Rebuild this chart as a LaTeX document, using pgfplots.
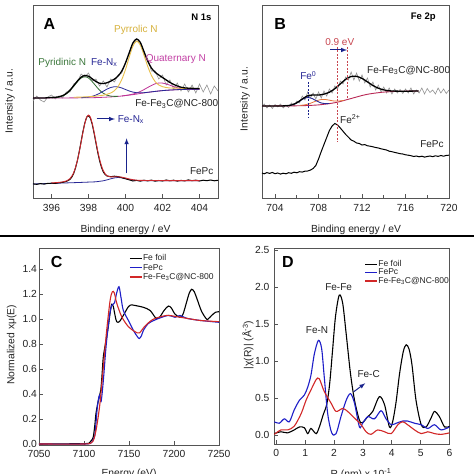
\documentclass[border=0pt]{standalone}
\usepackage{fontspec}
\setmainfont{Liberation Sans}
\usepackage{pgfplots}
\pgfplotsset{compat=1.18}
\definecolor{cframe}{RGB}{85,85,85}
\definecolor{ctext}{RGB}{35,35,35}
\definecolor{cgray}{RGB}{145,145,145}
\definecolor{cgreen}{RGB}{50,110,50}
\definecolor{cgreenT}{RGB}{60,120,60}
\definecolor{cblue}{RGB}{40,40,150}
\definecolor{cyellow}{RGB}{232,192,75}
\definecolor{cyellowT}{RGB}{215,178,60}
\definecolor{cmag}{RGB}{190,50,150}
\definecolor{cmagT}{RGB}{195,65,165}
\definecolor{cred}{RGB}{205,40,45}
\definecolor{ccrim}{RGB}{185,40,85}
\definecolor{corange}{RGB}{230,120,60}
\definecolor{cnavy}{RGB}{25,35,140}
\definecolor{cpink}{RGB}{200,70,80}
\definecolor{cbl}{RGB}{30,30,200}
\definecolor{crd}{RGB}{210,40,40}
\newcommand{\fs}[1]{\fontsize{#1}{#1}\selectfont}
\pgfplotsset{
  myax/.style={scale only axis, anchor=south west,
    axis line style={cframe, line width=0.9pt},
    tick align=inside, xtick pos=bottom, ytick pos=left,
    major tick length=4pt, minor tick length=2.5pt,
    tick style={cframe, line width=0.8pt},
    ticklabel style={font=\fs{10.3}, text=ctext},
    /pgf/number format/assume math mode=true,
    clip=false},
}
\begin{document}
\begin{tikzpicture}
\useasboundingbox (0pt,0pt) rectangle (474pt,474pt);
\clip (0pt,0pt) rectangle (474pt,474pt);
\fill[white] (0pt,0pt) rectangle (474pt,474pt);

%================ A =================
\begin{axis}[myax, at={(33pt,276pt)}, width=185pt, height=193pt,
  xmin=395, xmax=405, ymin=0, ymax=193,
  xtick={396,398,400,402,404}, ytick=\empty,
  xticklabel style={yshift=-3pt}]
% raw data (gray)
\addplot[cgray, line width=0.6pt] coordinates {
(395.0,97)(395.2,102)(395.4,98)(395.6,96)(395.8,101)(396.0,103)(396.2,99)(396.4,102)(396.6,100)(396.8,106)
(397.0,106)(397.2,114)(397.4,116)(397.6,124)(397.8,121)(398.0,125)(398.2,117)(398.4,119)(398.6,112)(398.8,117)
(399.0,111)(399.2,119)(399.4,116)(399.6,123)(399.8,125)(400.0,136)(400.2,144)(400.4,155)(400.6,157)(400.8,156)
(401.0,145)(401.2,139)(401.4,127)(401.6,127)(401.8,119)(402.0,123)(402.2,113)(402.4,118)(402.6,109)(402.8,115)
(403.0,107)(403.2,114)(403.4,106)(403.6,113)(403.8,105)(404.0,114)(404.2,106)(404.4,113)(404.6,104)(404.8,112)(405.0,107)};
% baseline / quaternary (magenta)
\addplot[cmag, line width=0.8pt, smooth] coordinates {
(395,100)(396,100)(397,100.1)(397.8,100.2)(398.4,100.4)(399,100.9)(399.4,101.3)(399.8,102)(400.2,103.1)
(400.4,103.9)(400.6,105.0)(400.8,106.5)(401.0,108.4)(401.2,110.5)(401.4,112.5)(401.6,114.2)(401.8,115.0)
(402.0,114.9)(402.2,114.1)(402.4,112.8)(402.6,111.4)(402.8,110.3)(403.0,109.5)(403.2,109.1)(403.4,108.9)(404,108.9)};
\addplot[cmag, line width=0.8pt, smooth] coordinates {
(399.8,102)(400.2,102.9)(400.6,103.9)(401,105.1)(401.4,106.1)(401.8,107)(402.2,107.7)(402.6,108.1)(403,108.5)(403.6,108.7)(404,108.9)};
% pyridinic (green)
\addplot[cgreen, line width=0.8pt, smooth] coordinates {
(396.0,100.1)(396.2,100.3)(396.4,100.8)(396.6,101.9)(396.8,104.1)(397.0,107.4)(397.2,111.7)(397.4,116.2)
(397.6,119.9)(397.8,121.2)(398.0,120.0)(398.2,116.4)(398.4,112.0)(398.6,107.8)(398.8,104.7)(399.0,102.8)
(399.2,101.9)(399.4,101.6)(399.6,101.7)};
% Fe-Nx (blue)
\addplot[cblue, line width=0.8pt, smooth] coordinates {
(397.6,100.3)(397.8,100.5)(398.0,100.9)(398.2,101.7)(398.4,102.9)(398.6,104.7)(398.8,106.8)(399.0,108.9)
(399.2,110.5)(399.4,111.3)(399.6,111.1)(399.8,110.0)(400.0,108.5)(400.2,107.0)(400.4,105.9)(400.6,105.3)
(400.8,105.2)(401.0,105.3)(401.2,105.7)(401.6,106.6)(402.2,107.7)(403,108.5)(404,108.9)};
% pyrrolic (yellow)
\addplot[cyellow, line width=0.9pt, smooth] coordinates {
(397.2,100.7)(397.8,101.1)(398.2,101.5)(398.6,102.3)(398.8,102.8)(399.0,103.7)(399.2,105.0)(399.4,107.3)
(399.6,111.5)(399.8,118.5)(400.0,128.5)(400.2,140.7)(400.4,151.8)(400.6,156.9)(400.8,152.9)(401.0,142.9)
(401.2,131.7)(401.4,122.6)(401.6,116.5)(401.8,113.0)(402.0,111.3)(402.2,110.5)(402.4,110.0)(402.6,109.9)
(403.0,109.7)(403.4,109.6)(404.0,109.5)};
% envelope (black)
\addplot[black, line width=1.3pt, smooth] coordinates {
(395,100)(395.6,100)(396.0,100.5)(396.2,100.7)(396.4,101.2)(396.6,102.4)(396.8,104.5)(397.0,107.9)(397.2,112.3)
(397.4,117.0)(397.6,120.8)(397.8,122.6)(398.0,121.8)(398.2,119.2)(398.4,116.5)(398.6,114.7)(398.8,114.4)
(399.0,115.2)(399.2,116.8)(399.4,118.9)(399.6,122.0)(399.8,127.0)(400.0,135.0)(400.2,145.2)(400.4,155.0)
(400.6,159.0)(400.8,155.6)(401.0,146.4)(401.2,137.0)(401.4,130.0)(401.6,125.8)(401.8,123.0)(402.0,120.5)
(402.2,118.0)(402.4,115.6)(402.6,113.6)(402.8,112.0)(403.0,110.8)(403.2,110.1)(403.4,109.8)(403.8,109.5)(404.0,109.5)};
% FePc baseline + Fe-Nx (blue)
\addplot[cblue, line width=0.8pt, smooth] coordinates {
(395,14)(396,14.6)(397,15.2)(397.6,15.6)(398,15.9)(398.4,16.2)(398.6,16.7)(398.8,17.2)(399.0,18.1)(399.2,19.2)
(399.4,20.1)(399.6,20.5)(399.8,20.2)(400,19.5)(400.2,18.6)(400.4,17.9)(400.6,17.5)(400.8,17.3)(401,17.2)(402,17.25)(403,17.3)(404,17.3)};
% FePc data (black)
\addplot[black, line width=1.0pt] coordinates {
(395.0,14.2)(395.2,13.6)(395.4,14.4)(395.6,13.9)(395.8,14.6)(396.0,14.8)(396.2,14.5)(396.4,15.3)(396.6,15.6)(396.8,16.5)
(397.0,18.6)(397.1,21.0)(397.2,24.6)(397.3,30.2)(397.4,37.5)(397.5,46.5)(397.6,56.5)(397.7,66.5)(397.8,75.0)(397.9,80.8)
(398.0,82.3)(398.1,80.0)(398.2,73.8)(398.3,65.0)(398.4,55.2)(398.5,45.5)(398.6,37.2)(398.7,30.6)(398.8,26.0)(398.9,23.5)
(399.0,22.0)(399.2,21.3)(399.4,21.8)(399.6,21.4)(399.8,20.3)(400.0,19.2)(400.2,18.2)(400.4,17.0)(400.6,17.6)(400.8,16.9)
(401.0,17.8)(401.2,17.1)(401.4,17.9)(401.6,16.8)(401.8,17.5)(402.0,17.0)(402.2,18.0)(402.4,17.2)(402.6,17.8)(402.8,16.9)
(403.0,17.6)(403.2,17.1)(403.4,18.1)(403.6,17.3)(403.8,17.9)(404.0,17.0)(404.2,17.8)(404.4,17.3)(404.6,18.0)(404.8,17.2)(405.0,17.7)};
% FePc fit (red)
\addplot[cred, line width=0.9pt, smooth] coordinates {
(396.0,15.1)(396.4,15.6)(396.6,16.1)(396.8,17.0)(397.0,19.4)(397.1,21.9)(397.2,25.4)(397.3,30.7)(397.4,37.6)
(397.5,46.1)(397.6,55.8)(397.7,65.7)(397.8,74.4)(397.9,80.7)(398.0,82.9)(398.1,80.8)(398.2,74.7)(398.3,66.1)
(398.4,56.4)(398.5,46.9)(398.6,38.8)(398.7,32.2)(398.8,27.3)(398.9,24.2)(399.0,22.3)(399.2,21.1)(399.4,21.2)
(399.6,21.2)(399.8,20.8)(400.0,20.0)(400.2,19.0)(400.4,18.3)(400.6,17.8)(400.8,17.6)(401.2,17.5)(402,17.45)(403,17.4)(404,17.4)};
% annotations
\node[font=\fs{16}\bfseries, text=black] at (axis cs:395.88,174.2) {A};
\node[font=\fs{9.5}\bfseries, text=black, anchor=east] at (axis cs:404.84,180.7) {N 1s};
\node[font=\fs{10}, text=cyellowT] at (axis cs:400.56,168) {Pyrrolic N};
\node[font=\fs{10}, text=cgreenT] at (axis cs:396.58,135.5) {Pyridinic N};
\node[font=\fs{10}, text=cblue] at (axis cs:398.85,135.5) {Fe-N\textsubscript{x}};
\node[font=\fs{10}, text=cmagT] at (axis cs:402.72,139) {Quaternary N};
\node[font=\fs{10}, text=ctext] at (axis cs:402.77,94) {Fe-Fe\textsubscript{3}C@NC-800};
\node[font=\fs{10}, text=cblue] at (axis cs:400.29,78.5) {Fe-N\textsubscript{x}};
\node[font=\fs{10}, text=ctext] at (axis cs:404.12,27.2) {FePc};
\draw[cnavy, line width=1pt, -latex] (axis cs:398.44,79) -- (axis cs:399.43,79);
\draw[cnavy, line width=1pt, -latex] (axis cs:400.06,24.7) -- (axis cs:400.06,59.7);
\end{axis}

%================ B =================
\begin{axis}[myax, at={(262pt,276pt)}, width=187pt, height=193pt,
  xmin=702.8, xmax=720, ymin=0, ymax=193,
  xtick={704,708,712,716,720}, minor xtick={706,710,714,718}, ytick=\empty,
  xticklabel style={yshift=-3pt}]
\addplot[cgray, line width=0.6pt] coordinates {
(702.8,91)(703.0,94)(703.25,90)(703.5,93)(703.75,89.5)(704.0,93.5)(704.25,91)(704.5,94)(704.75,90)(705.0,93)
(705.25,90.5)(705.5,95)(705.75,92)(706.0,97)(706.25,95)(706.5,102)(706.75,98)(707.0,106)(707.25,100)(707.5,105)
(707.75,99)(708.0,106)(708.25,100)(708.5,107)(708.75,102)(709.0,109)(709.25,105)(709.5,112)(709.75,109)(710.0,117)
(710.25,114)(710.5,121)(710.75,118)(711.0,126)(711.25,118)(711.5,125)(711.75,117)(712.0,123)(712.25,115)(712.5,120)
(712.75,111)(713.0,116)(713.25,108)(713.5,113)(713.75,106)(714.0,111)(714.25,105)(714.5,110)(714.75,104)(715.0,109)
(715.25,105)(715.5,108.5)(715.75,104.5)(716.0,109)(716.25,105)(716.5,110)(716.75,104)(717.0,108)(717.25,105)(717.5,110)
(717.75,104)(718.0,109.5)(718.25,105.5)(718.5,108)(718.75,104)(719.0,110)(719.25,105)(719.5,109)(719.75,104.5)(720.0,108)};
% baseline (crimson)
\addplot[ccrim, line width=0.9pt, smooth] coordinates {
(702.8,92)(704,92.05)(705,92.1)(706,92.2)(707,92.5)(708,93.1)(709,94.4)(709.5,95.3)(710,96.5)(710.5,98.0)
(711,99.5)(711.5,101.0)(712,102.5)(712.5,103.7)(713,104.6)(713.5,105.3)(714,105.9)(715,106.5)(716,106.8)(717.2,107.0)};
% Fe2+ component (orange)
\addplot[corange, line width=0.8pt, smooth] coordinates {
(706.3,92.6)(706.7,93.1)(707.1,94.1)(707.5,95.8)(707.9,97.5)(708.3,98.6)(708.7,98.4)(709.1,97.6)(709.5,96.9)(709.9,97.0)(710.3,97.6)};
% Fe0 component (blue)
\addplot[cblue, line width=0.9pt, smooth] coordinates {
(705.0,92.2)(705.4,92.7)(705.8,94.0)(706.2,96.5)(706.6,99.2)(707.0,100.5)(707.4,99.5)(707.8,97.2)(708.2,95.2)(708.6,94.4)(709.0,94.5)};
% envelope
\addplot[black, line width=1.3pt, smooth] coordinates {
(702.8,92.0)(704,92.0)(705,92.2)(705.5,93.0)(706,95.2)(706.5,98.95)(707,102.2)(707.5,103.0)(708,102.9)(708.5,103.9)
(709,105.8)(709.5,109.3)(710,114.1)(710.5,118.7)(711,121.5)(711.5,121.6)(712,119.6)(712.5,116.1)(713,112.5)
(713.5,109.8)(714,108.1)(714.5,107.2)(715,106.9)(716,106.8)(717.2,107.0)};
% FePc
\addplot[black, line width=1.0pt] coordinates {
(702.8,25.0)(703.0,24.2)(703.25,25.4)(703.5,24.6)(703.75,25.5)(704.0,24.3)(704.25,25.0)(704.5,23.9)(704.75,24.8)(705.0,24.2)
(705.25,25.3)(705.5,24.7)(705.75,25.8)(706.0,25.2)(706.25,26.3)(706.5,25.9)(706.75,26.8)(707.0,27.0)(707.25,27.9)(707.5,29.5)
(707.75,32.5)(708.0,39.0)(708.25,46.5)(708.5,53.5)(708.75,60.5)(709.0,67.5)(709.25,72.0)(709.5,74.5)(709.75,73.0)(710.0,70.0)
(710.25,66.8)(710.5,63.5)(710.75,60.8)(711.0,58.0)(711.25,56.8)(711.5,55.0)(711.75,54.5)(712.0,53.0)(712.25,53.4)(712.5,52.2)
(712.75,51.8)(713.0,51.2)(713.25,50.5)(713.5,50.0)(713.75,49.2)(714.0,48.6)(714.25,48.0)(714.5,46.8)(714.75,46.3)(715.0,45.6)
(715.25,45.0)(715.5,44.3)(715.75,44.0)(716.0,43.2)(716.25,42.8)(716.5,42.3)(716.75,41.5)(717.0,42.0)(717.25,41.2)(717.5,41.8)
(717.75,40.9)(718.0,41.5)(718.25,42.0)(718.5,41.3)(718.75,42.2)(719.0,41.6)(719.25,42.5)(719.5,41.8)(719.75,42.6)(720.0,42.8)};
% annotations
\draw[cpink, line width=0.8pt, dashed, dash pattern=on 2pt off 1.5pt] (axis cs:709.75,151) -- (axis cs:709.75,56);
\draw[cpink, line width=0.8pt, dashed, dash pattern=on 2pt off 1.5pt] (axis cs:710.65,151) -- (axis cs:710.65,99);
\draw[cnavy, line width=0.8pt, dashed, dash pattern=on 2pt off 1.5pt] (axis cs:707.03,116) -- (axis cs:707.03,80);
\draw[cnavy, line width=1pt, -latex] (axis cs:709.08,148) -- (axis cs:710.62,148);
\node[font=\fs{16}\bfseries, text=black] at (axis cs:704.48,174.2) {B};
\node[font=\fs{9.5}\bfseries, text=black, anchor=east] at (axis cs:719.1,180.7) {Fe 2p};
\node[font=\fs{10}, text=cpink] at (axis cs:709.95,155.5) {0.9 eV};
\node[font=\fs{10}, text=cblue] at (axis cs:707.06,122.5) {Fe\textsuperscript{0}};
\node[font=\fs{10}, text=ctext] at (axis cs:710.92,79) {Fe\textsuperscript{2+}};
\node[font=\fs{10}, text=ctext] at (axis cs:716.29,127.5) {Fe-Fe\textsubscript{3}C@NC-800};
\node[font=\fs{10}, text=ctext] at (axis cs:718.43,54) {FePc};
\end{axis}

%================ C =================
\begin{axis}[myax, at={(39pt,29pt)}, width=180pt, height=196.7pt,
  xmin=7050, xmax=7250, ymin=-0.008, ymax=1.568,
  xtick={7050,7100,7150,7200,7250}, ytick={0,0.2,0.4,0.6,0.8,1.0,1.2,1.4},
  xticklabel style={yshift=-2pt, /pgf/number format/1000 sep={}},
  yticklabel style={xshift=1.5pt, /pgf/number format/.cd, fixed, fixed zerofill, precision=1},
  legend style={at={(axis description cs:0.5,0.972)}, anchor=north west, draw=none, fill=none,
    font=\fs{8.5}, row sep=-0.3pt, nodes={inner sep=0.6pt, text height=6.3pt, text depth=1.9pt}, inner sep=0pt, text=ctext},
  legend cell align=left,
  legend image code/.code={\draw[#1, line width=1.2pt] (0pt,0pt) -- (12pt,0pt);}]
\addplot[black, line width=1.1pt, smooth] coordinates {
(7050,0)(7100,0.003)(7106,0.01)(7108.5,0.03)(7110.4,0.06)(7112,0.15)(7113.4,0.25)(7116,0.35)(7118.6,0.43)(7120,0.55)
(7121.5,0.70)(7124.5,0.83)(7127,0.94)(7129,1.05)(7130.8,1.12)(7132.6,1.10)(7134.5,1.03)(7136.3,0.98)(7139.3,0.98)
(7143.7,1.03)(7149.3,1.10)(7153,1.115)(7156.7,1.11)(7166,1.095)(7173.4,1.07)(7179,1.015)(7181,1.005)(7184.5,1.02)
(7189,1.07)(7193.7,1.105)(7197,1.09)(7201.2,1.04)(7206.7,1.015)(7210,1.04)(7214.1,1.14)(7217,1.21)(7219.7,1.24)
(7222.5,1.22)(7225.2,1.17)(7230.8,1.06)(7236.3,1.0)(7238.5,1.005)(7241.9,1.03)(7246,1.055)(7250,1.06)};
\addlegendentry{Fe foil}
\addplot[cbl, line width=1.1pt, smooth] coordinates {
(7050,0)(7100,0.0)(7108,0.01)(7110.5,0.04)(7112.3,0.085)(7114.9,0.30)(7117.1,0.39)(7119,0.34)(7121.5,0.51)(7124.5,0.78)
(7128.2,1.02)(7130.8,1.11)(7133.8,1.13)(7136.3,1.21)(7138.9,1.26)(7141.2,1.17)(7143.7,1.07)(7149.3,0.99)(7154.9,0.91)
(7159.3,0.86)(7161.5,0.845)(7164,0.87)(7166,0.91)(7171.5,0.965)(7180.8,1.0)(7193.7,1.03)(7201.2,1.015)(7206.7,1.03)
(7214.1,1.007)(7229,0.99)(7250,0.975)};
\addlegendentry{FePc}
\addplot[crd, line width=1.1pt, smooth] coordinates {
(7050,0)(7100,0.0)(7108,0.01)(7111,0.04)(7114.1,0.14)(7117.8,0.33)(7121.5,0.62)(7125.2,0.91)(7129,1.15)(7131.5,1.22)
(7133.7,1.21)(7136.3,1.13)(7141.9,1.02)(7149.3,0.94)(7156.7,0.90)(7161.5,0.89)(7167.8,0.945)(7177.1,1.0)(7191.9,1.03)
(7203,1.02)(7214.1,1.007)(7229,0.99)(7250,0.98)};
\addlegendentry{Fe-Fe\textsubscript{3}C@NC-800}
\node[font=\fs{16}\bfseries, text=black] at (axis cs:7069.7,1.458) {C};
\end{axis}

%================ D =================
\begin{axis}[myax, at={(274pt,30pt)}, width=175.5pt, height=196pt,
  xmin=-0.08, xmax=6.0, ymin=-0.12, ymax=2.527,
  xtick={0,1,2,3,4,5,6}, ytick={0,0.5,1.0,1.5,2.0,2.5},
  xticklabel style={yshift=-2pt},
  yticklabel style={xshift=-1pt, /pgf/number format/.cd, fixed, fixed zerofill, precision=1},
  legend style={at={(axis description cs:0.515,0.942)}, anchor=north west, draw=none, fill=none,
    font=\fs{8.5}, row sep=-1pt, nodes={inner sep=0.6pt, text height=6.3pt, text depth=1.9pt}, inner sep=0pt, text=ctext},
  legend cell align=left,
  legend image code/.code={\draw[#1, line width=1.2pt] (0pt,0pt) -- (12pt,0pt);}]
\addplot[black, line width=1.1pt, smooth] coordinates {
(-0.07,0.02)(0.16,0.045)(0.39,0.03)(0.62,0.07)(0.80,0.11)(0.97,0.10)(1.09,0.02)(1.2,0.09)(1.38,0.02)(1.5,0.12)
(1.62,0.27)(1.75,0.42)(1.85,0.70)(1.95,1.15)(2.05,1.60)(2.18,1.89)(2.30,1.78)(2.42,1.37)(2.57,0.83)(2.71,0.47)
(2.88,0.20)(2.99,0.17)(3.17,0.25)(3.34,0.32)(3.57,0.52)(3.75,0.41)(3.92,0.11)(4.03,0.18)(4.15,0.45)(4.27,0.83)
(4.4,1.13)(4.5,1.22)(4.6,1.16)(4.7,0.95)(4.84,0.47)(5.02,0.14)(5.19,0.11)(5.36,0.23)(5.48,0.32)(5.65,0.25)(5.83,0.11)(6.0,0.12)};
\addlegendentry{Fe foil}
\addplot[cbl, line width=1.1pt, smooth] coordinates {
(-0.07,0.18)(0.1,0.16)(0.28,0.22)(0.45,0.18)(0.62,0.34)(0.80,0.47)(0.97,0.54)(1.09,0.65)(1.2,0.81)(1.32,1.10)
(1.46,1.28)(1.57,1.17)(1.66,0.79)(1.78,0.29)(1.92,0.03)(2.07,0.02)(2.24,0.25)(2.42,0.47)(2.57,0.56)(2.71,0.43)
(2.88,0.11)(2.99,0.16)(3.17,0.25)(3.40,0.22)(3.63,0.33)(3.80,0.22)(3.98,0.14)(4.15,0.16)(4.38,0.19)(4.55,0.19)
(4.79,0.16)(5.02,0.14)(5.25,0.09)(5.48,0.14)(5.71,0.07)(6.0,0.11)};
\addlegendentry{FePc}
\addplot[crd, line width=1.1pt, smooth] coordinates {
(-0.07,0.01)(0.16,0.07)(0.39,0.07)(0.62,0.12)(0.86,0.29)(1.03,0.47)(1.2,0.61)(1.38,0.75)(1.49,0.76)(1.66,0.59)
(1.90,0.43)(2.07,0.32)(2.30,0.36)(2.47,0.32)(2.71,0.23)(2.94,0.14)(3.11,0.045)(3.28,0.01)(3.51,0.07)(3.75,0.045)
(3.98,0.02)(4.21,0.14)(4.38,0.18)(4.55,0.14)(4.79,0.07)(5.02,0.02)(5.25,0.045)(5.48,0.02)(5.71,0.01)(6.0,0.03)};
\addlegendentry{Fe-Fe\textsubscript{3}C@NC-800}
\node[font=\fs{16}\bfseries, text=black] at (axis cs:0.40,2.34) {D};
\node[font=\fs{10}, text=ctext] at (axis cs:2.16,2.0) {Fe-Fe};
\node[font=\fs{10}, text=ctext] at (axis cs:1.41,1.42) {Fe-N};
\node[font=\fs{10}, text=ctext] at (axis cs:3.2,0.83) {Fe-C};
\draw[cnavy, line width=1pt, -latex] (axis cs:2.68,0.585) -- (axis cs:3.08,0.70);
\end{axis}

%================ labels =================
\node[font=\fs{10.3}, text=ctext] at (125.5pt,244pt) {Binding energy / eV};
\node[font=\fs{10.3}, text=ctext] at (356pt,244pt) {Binding energy / eV};
\node[font=\fs{10.3}, text=ctext, rotate=90] at (10pt,373pt) {Intensity / a.u.};
\node[font=\fs{10.3}, text=ctext, rotate=90] at (245pt,375pt) {Intensity / a.u.};
\node[font=\fs{10.3}, text=ctext, rotate=90] at (11.7pt,129pt) {Normalized xμ(E)};
\node[font=\fs{10.3}, text=ctext, rotate=90] at (248pt,129pt) {|χ(R)| (Å\textsuperscript{-3})};
\node[font=\fs{10.3}, text=ctext, anchor=north, inner sep=0pt] at (129pt,5pt) {Energy (eV)};
\node[font=\fs{10.3}, text=ctext, anchor=north, inner sep=0pt] at (361pt,5.5pt) {R (nm) x 10\textsuperscript{-1}};
\draw[black, line width=2pt] (0pt,237.5pt) -- (474pt,237.5pt);
\end{tikzpicture}
\end{document}
